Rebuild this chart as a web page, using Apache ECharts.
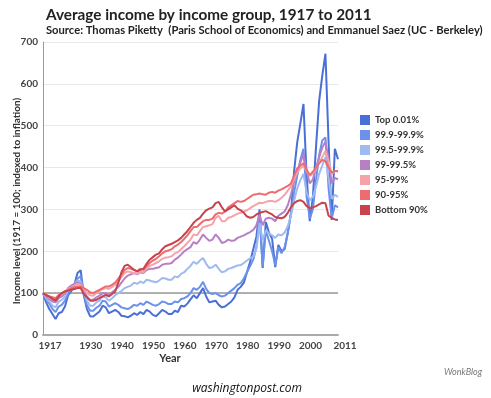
<!DOCTYPE html>
<html lang="en">
<head>
    <meta charset="UTF-8">
    <title>Average income by income group</title>
    <style>
        * {
            margin: 0;
            padding: 0;
        }

        .main {
            width: 491px;
            height: 398px;
            background: #fff;
        }
    </style>
</head>
<body>
<div id="main" class="main"></div>
<script src="https://cdn.jsdelivr.net/npm/echarts@6/dist/echarts.min.js"></script>
<script>
    // years 1917 .. 2011
    var years = [];
    for (var y = 1917; y <= 2011; y++) years.push(String(y));
    var tickYears = ['1917', '1930', '1940', '1950', '1960', '1970', '1980', '1990', '2000', '2011'];
    var seriesNames = ['Top 0.01%', '99.9-99.9%', '99.5-99.9%', '99-99.5%', '95-99%', '90-95%', 'Bottom 90%'];
    var colors = ['#4a6fd6', '#6c91ea', '#9dbaf2', '#b77fc6', '#f5a3a9', '#ee6b70', '#c8434b'];

    var top001 = [
        100, 78, 62, 50, 38, 52, 55, 68, 95, 105,
        120, 148, 155, 95, 62, 45, 44, 50, 56, 70,
        66, 52, 56, 60, 55, 46, 45, 42, 46, 52,
        48, 55, 50, 60, 56, 48, 45, 52, 60, 56,
        50, 50, 58, 55, 70, 68, 75, 85, 95, 88,
        100, 112, 92, 78, 80, 82, 72, 66, 68, 74,
        80, 90, 108, 115, 125, 150, 175, 205, 235, 300,
        160, 270, 245, 230, 162, 215, 200, 205, 245, 290,
        390, 460, 505, 552, 380, 272, 330, 450, 560, 620,
        672, 460, 275, 445, 420
    ];
    var top01 = [
        100, 85, 75, 62, 55, 68, 72, 82, 100, 108,
        118, 135, 140, 98, 72, 58, 58, 65, 70, 82,
        80, 68, 72, 76, 72, 66, 64, 62, 66, 72,
        70, 76, 72, 80, 76, 72, 70, 74, 80, 78,
        74, 74, 80, 78, 86, 88, 92, 100, 112, 108,
        115, 127, 110, 100, 98, 100, 95, 92, 94, 100,
        106, 112, 120, 124, 135, 150, 165, 180, 210, 285,
        163, 250, 225, 200, 167, 210, 195, 210, 243, 290,
        340, 380, 418, 445, 330, 278, 300, 370, 430, 465,
        472, 350, 278, 310, 305
    ];
    var top05 = [
        100, 88, 80, 70, 66, 80, 84, 92, 108, 115,
        122, 130, 128, 102, 82, 70, 70, 78, 82, 92,
        90, 82, 88, 95, 100, 105, 112, 115, 118, 125,
        122, 128, 124, 132, 130, 128, 126, 130, 136, 135,
        132, 132, 140, 138, 146, 150, 158, 165, 175, 170,
        178, 184, 170, 160, 162, 168, 158, 150, 152, 158,
        160, 163, 166, 167, 172, 178, 183, 187, 205, 267,
        227, 250, 243, 238, 232, 240, 238, 245, 260, 285,
        320, 350, 370, 385, 340, 322, 330, 355, 385, 405,
        425, 375, 325, 335, 330
    ];
    var top1 = [
        100, 92, 86, 80, 78, 88, 92, 100, 112, 118,
        122, 126, 122, 105, 92, 84, 84, 90, 94, 100,
        100, 96, 102, 108, 115, 125, 135, 142, 145, 148,
        145, 150, 148, 155, 158, 158, 160, 162, 168, 170,
        170, 172, 180, 185, 192, 200, 205, 210, 222, 218,
        228, 240, 232, 225, 228, 240, 232, 220, 222, 228,
        225, 226, 232, 235, 238, 242, 246, 251, 262, 287,
        262, 278, 280, 278, 272, 285, 290, 295, 310, 335,
        365, 392, 412, 432, 392, 362, 372, 400, 425, 448,
        462, 418, 362, 375, 372
    ];
    var top5 = [
        100, 94, 90, 85, 86, 94, 98, 104, 110, 114,
        118, 122, 120, 110, 100, 95, 94, 100, 105, 110,
        112, 110, 115, 120, 128, 138, 148, 152, 150, 148,
        146, 152, 150, 160, 165, 168, 172, 176, 182, 185,
        186, 188, 195, 198, 205, 212, 220, 228, 240, 238,
        248, 258, 260, 262, 265, 280, 285, 272, 272, 280,
        282, 286, 290, 292, 295, 298, 303, 308, 312, 316,
        315, 318, 320, 320, 318, 322, 328, 335, 345, 355,
        372, 388, 398, 405, 392, 380, 386, 398, 412, 425,
        440, 415, 385, 392, 390
    ];
    var top10 = [
        100, 96, 92, 90, 88, 96, 100, 104, 108, 112,
        114, 116, 116, 112, 108, 102, 100, 104, 108, 112,
        116, 116, 120, 125, 135, 145, 155, 160, 158, 155,
        152, 158, 156, 165, 172, 178, 182, 188, 195, 200,
        202, 205, 212, 216, 222, 230, 238, 248, 258, 258,
        265, 272, 275, 275, 278, 288, 292, 290, 295, 305,
        310, 315, 320, 318, 320, 325, 330, 335, 336, 338,
        336, 335, 340, 342, 340, 345, 348, 352, 356, 362,
        380, 398, 405, 410, 395, 382, 390, 400, 410, 418,
        415, 400, 388, 392, 392
    ];
    var bottom90 = [
        100, 95, 92, 86, 82, 92, 100, 104, 106, 108,
        110, 112, 112, 98, 90, 82, 82, 84, 88, 92,
        96, 92, 98, 104, 125, 150, 165, 168, 162, 156,
        152, 156, 158, 170, 180, 186, 192, 195, 205, 212,
        215, 218, 222, 226, 232, 240, 248, 258, 268, 275,
        280, 290, 298, 302, 305, 315, 318, 305, 295, 300,
        305, 310, 302, 298, 292, 283, 280, 282, 288, 292,
        294, 296, 292, 288, 282, 280, 279, 282, 292, 305,
        315, 320, 322, 318, 308, 303, 305, 308, 312, 316,
        315, 285, 280, 276, 275
    ];
    var allData = [top001, top01, top05, top1, top5, top10, bottom90];

    var myChart = echarts.init(document.getElementById('main'), null, {renderer: 'canvas'});

    var series = seriesNames.map(function (name, i) {
        var s = {
            name: name,
            type: 'line',
            data: allData[i],
            symbol: 'none',
            smooth: false,
            lineStyle: {width: 2, color: colors[i]},
            itemStyle: {color: colors[i]}
        };
        if (i === 0) {
            s.markLine = {
                silent: true,
                symbol: 'none',
                label: {show: false},
                lineStyle: {color: '#999', width: 1.5, type: 'solid'},
                data: [{yAxis: 100}],
                z: 1
            };
        }
        return s;
    });

    myChart.setOption({
        animation: false,
        textStyle: {fontFamily: 'Lato'},
        title: {
            text: 'Average income by income group, 1917 to 2011',
            subtext: 'Source: Thomas Piketty  (Paris School of Economics) and Emmanuel Saez (UC - Berkeley)',
            left: 41,
            top: 3,
            itemGap: 2,
            textStyle: {fontSize: 15.3, fontWeight: 'bold', color: '#222', fontFamily: 'Lato'},
            subtextStyle: {fontSize: 11.2, fontWeight: 'bold', color: '#222', fontFamily: 'Lato'}
        },
        legend: {
            orient: 'vertical',
            left: 355,
            top: 110,
            itemWidth: 10,
            itemHeight: 10,
            itemGap: 5,
            icon: 'rect',
            data: seriesNames,
            textStyle: {fontSize: 9.5, fontWeight: 'bold', color: '#333', fontFamily: 'Lato'}
        },
        grid: {left: 43, right: 153, top: 42, bottom: 63},
        xAxis: {
            type: 'category',
            data: years,
            boundaryGap: false,
            axisLine: {lineStyle: {color: '#aaa', width: 2}},
            axisTick: {show: false},
            axisLabel: {
                interval: function (index, value) {
                    return tickYears.indexOf(value) >= 0;
                },
                fontSize: 10,
                fontWeight: 'bold',
                color: '#444',
                margin: 6,
                padding: [0, 0, 0, 14]
            },
            splitLine: {show: false}
        },
        yAxis: {
            type: 'value',
            min: 0,
            max: 700,
            interval: 100,
            axisLine: {show: true, lineStyle: {color: '#999', width: 1}},
            axisTick: {show: false},
            axisLabel: {fontSize: 10, fontWeight: 'bold', color: '#444', margin: 5},
            splitLine: {lineStyle: {color: '#e8e8e8', width: 1}}
        },
        graphic: [
            {
                type: 'text',
                x: 17,
                y: 201,
                rotation: Math.PI / 2,
                style: {
                    text: 'Income level (1917 = 100; indexed to inflation)',
                    font: 'bold 10px Lato',
                    fill: '#333',
                    textAlign: 'center',
                    textVerticalAlign: 'middle'
                }
            },
            {
                type: 'text',
                x: 170,
                y: 358,
                style: {
                    text: 'Year',
                    font: 'bold 11px Lato',
                    fill: '#333',
                    textAlign: 'center',
                    textVerticalAlign: 'middle'
                }
            },
            {
                type: 'text',
                x: 463,
                y: 372,
                style: {
                    text: 'WonkBlog',
                    font: 'italic 9px Lato',
                    fill: '#777',
                    textAlign: 'center',
                    textVerticalAlign: 'middle'
                }
            },
            {
                type: 'text',
                x: 247,
                y: 389,
                style: {
                    text: 'washingtonpost.com',
                    font: 'italic 12px "Open Sans"',
                    fill: '#111',
                    textAlign: 'center',
                    textVerticalAlign: 'middle'
                }
            }
        ],
        series: series
    });
</script>
</body>
</html>
